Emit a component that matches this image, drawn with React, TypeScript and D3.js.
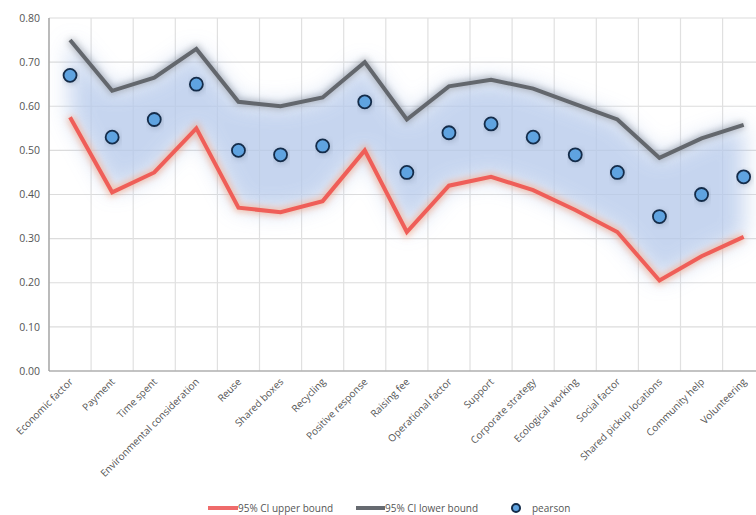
import React from "react";
import * as d3 from "d3";

const categories = [
  "Economic factor", "Payment", "Time spent", "Environmental consideration", "Reuse",
  "Shared boxes", "Recycling", "Positive response", "Raising fee", "Operational factor",
  "Support", "Corporate strategy", "Ecological working", "Social factor",
  "Shared pickup locations", "Community help", "Volunteering",
];
const pearson = [0.67, 0.53, 0.57, 0.65, 0.50, 0.49, 0.51, 0.61, 0.45, 0.54, 0.56, 0.53, 0.49, 0.45, 0.35, 0.40, 0.44];
const ciLower = [0.75, 0.635, 0.665, 0.73, 0.61, 0.60, 0.62, 0.70, 0.57, 0.645, 0.66, 0.64, 0.605, 0.57, 0.483, 0.527, 0.558];
const ciUpper = [0.575, 0.405, 0.45, 0.55, 0.37, 0.36, 0.385, 0.50, 0.315, 0.42, 0.44, 0.41, 0.365, 0.315, 0.205, 0.26, 0.304];
const yTicks = [0, 0.1, 0.2, 0.3, 0.4, 0.5, 0.6, 0.7, 0.8];

const W = 756;
const H = 515;
const left = 49;
const top = 18;
const bottom = 371;
const step = 42.1;
const FONT = "'Open Sans', 'Liberation Sans', sans-serif";

export default function App() {
  const x = d3.scaleBand<string>().domain(categories).range([left, left + step * categories.length]).padding(0);
  const y = d3.scaleLinear().domain([0, 0.8]).range([bottom, top]);
  const cx = (c: string) => (x(c) as number) + x.bandwidth() / 2;

  const line = d3.line<number>().x((_, i) => cx(categories[i])).y((v) => y(v));
  const band = d3
    .area<number>()
    .x((_, i) => cx(categories[i]))
    .y0((_, i) => y(ciUpper[i]))
    .y1((v) => y(v));

  const boundaries = categories.map((c) => x(c) as number).concat([left + step * categories.length]);

  return (
    <div style={{ position: "absolute", left: 0, top: 0 }}>
      <svg width={W} height={H} style={{ display: "block", background: "#fff" }}>
        <defs>
          <filter id="bandBlur" x="-20%" y="-40%" width="140%" height="180%">
            <feGaussianBlur stdDeviation="11" />
          </filter>
          <filter id="glow" x="-10%" y="-30%" width="120%" height="160%">
            <feGaussianBlur stdDeviation="3" />
          </filter>
          <clipPath id="plotClip">
            <rect x={0} y={0} width={W} height={bottom} />
          </clipPath>
        </defs>

        {/* grid */}
        {yTicks.map((t) => (
          <line key={"h" + t} x1={left} x2={W} y1={y(t)} y2={y(t)} stroke="#dcdcdc" strokeWidth={1.2} />
        ))}
        {boundaries.map((b, i) => (
          <line key={"v" + i} x1={b} x2={b} y1={top} y2={bottom} stroke="#e0e0e0" strokeWidth={1.2} />
        ))}

        {/* confidence band */}
        <g clipPath="url(#plotClip)">
          <path d={band(ciLower) as string} fill="#b4c8ea" opacity={0.75} filter="url(#bandBlur)" />
        </g>

        {/* line glows */}
        <path d={line(ciLower) as string} fill="none" stroke="#6b7078" strokeWidth={7} opacity={0.45} filter="url(#glow)" />
        <path d={line(ciUpper) as string} fill="none" stroke="#f7a07a" strokeWidth={8} opacity={0.6} filter="url(#glow)" />

        {/* lines */}
        <path d={line(ciLower) as string} fill="none" stroke="#63676d" strokeWidth={4} strokeLinejoin="miter" />
        <path d={line(ciUpper) as string} fill="none" stroke="#ef5e58" strokeWidth={4} strokeLinejoin="miter" />

        {/* axes */}
        <line x1={left} x2={left} y1={top} y2={bottom} stroke="#9a9a9a" strokeWidth={1.2} />
        <line x1={left} x2={W} y1={bottom} y2={bottom} stroke="#9a9a9a" strokeWidth={1.2} />

        {/* pearson points */}
        {pearson.map((v, i) => (
          <g key={"p" + i}>
            <circle cx={cx(categories[i]) + 1} cy={y(v) + 1.5} r={7} fill="#5a6a80" opacity={0.35} filter="url(#glow)" />
            <circle cx={cx(categories[i])} cy={y(v)} r={6.5} fill="#5fa3e0" stroke="#142c4a" strokeWidth={1.8} />
          </g>
        ))}

        {/* y tick labels */}
        {yTicks.map((t) => (
          <text key={"yl" + t} x={40} y={y(t)} dy="0.35em" textAnchor="end" fontFamily={FONT} fontSize={10.5} fill="#555">
            {t.toFixed(2)}
          </text>
        ))}

        {/* x tick labels */}
        {categories.map((c) => (
          <text
            key={"xl" + c}
            transform={`translate(${cx(c) + 1},${bottom + 9}) rotate(-45)`}
            textAnchor="end"
            dy="0.35em"
            fontFamily={FONT}
            fontSize={10}
            fill="#555"
          >
            {c}
          </text>
        ))}

        {/* legend */}
        <g fontFamily={FONT} fontSize={10} fill="#555">
          <line x1={208} x2={238} y1={508} y2={508} stroke="#ef6b6b" strokeWidth={4} />
          <text x={238} y={508} dy="0.35em">95% CI upper bound</text>
          <line x1={356} x2={385} y1={508} y2={508} stroke="#666a70" strokeWidth={4} />
          <text x={385} y={508} dy="0.35em">95% CI lower bound</text>
          <circle cx={516} cy={508} r={4} fill="#5fa3e0" stroke="#142c4a" strokeWidth={2} />
          <text x={532} y={508} dy="0.35em">pearson</text>
        </g>
      </svg>
    </div>
  );
}
